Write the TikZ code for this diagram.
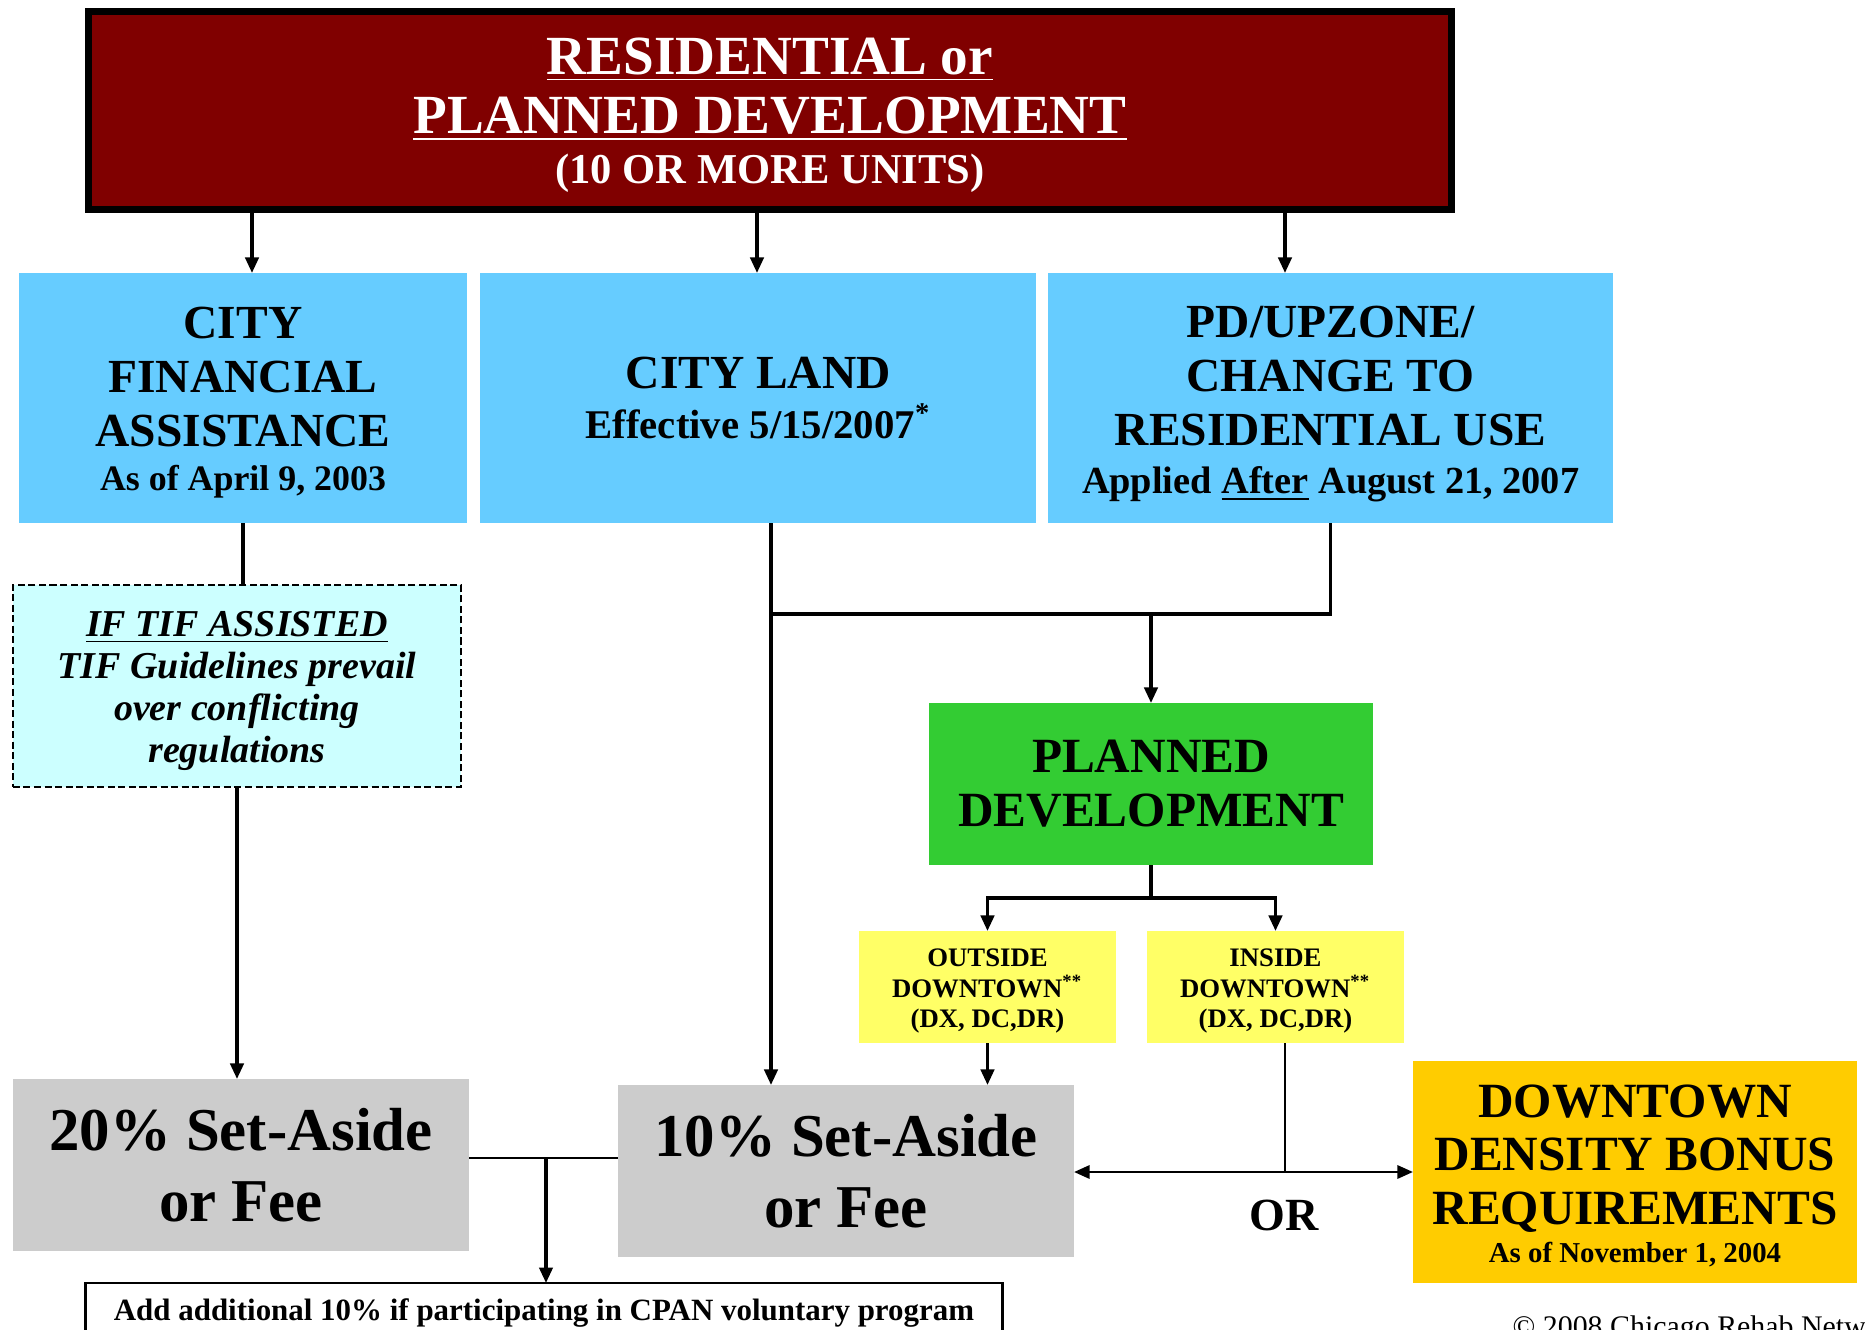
\documentclass[tikz,border=0pt]{standalone}
\usepackage{fontspec}
\setmainfont{Liberation Serif}
\usetikzlibrary{positioning, arrows.meta}
\definecolor{maroon}{HTML}{800000}
\definecolor{skyblue}{HTML}{66CCFF}
\definecolor{paleaqua}{HTML}{CCFFFF}
\definecolor{leafgreen}{HTML}{33CC33}
\definecolor{lemon}{HTML}{FFFF66}
\definecolor{lightgrey}{HTML}{CCCCCC}
\definecolor{amber}{HTML}{FFCC00}
\tikzset{
>={Stealth[length=4.4pt, width=3.8pt, inset=0pt]}, % makes the arrow heads solid triangles
box/.style={rectangle, inner sep=0pt, outer sep=0pt, align=center, font=\bfseries}, % every coloured box
headbox/.style={box, fill=maroon, draw=black, line width=2pt, text=white, minimum width=13.62cm, minimum height=1.98cm, font=\bfseries\fontsize{15.7}{16.8}\selectfont}, % the title box
bluebox/.style={box, fill=skyblue, minimum width=4.48cm, minimum height=2.5cm, font=\bfseries\fontsize{13.5}{15.3}\selectfont}, % the three cases
tifbox/.style={box, fill=paleaqua, draw=black, line width=0.6pt, dash pattern=on 2pt off 1pt, minimum width=4.48cm, minimum height=2.02cm, font=\bfseries\itshape\fontsize{10.8}{12}\selectfont},
setbox/.style={box, fill=lightgrey, minimum width=4.56cm, minimum height=1.72cm, font=\bfseries\fontsize{17.3}{20.2}\selectfont}, % set-aside results
zonebox/.style={box, fill=lemon, minimum width=2.57cm, minimum height=1.12cm, font=\bfseries\fontsize{7.6}{8.7}\selectfont}, % downtown or not
link/.style={line width=0.9pt}, % the heavy connectors
midlink/.style={line width=0.6pt},
thinlink/.style={line width=0.45pt},
}

\begin{document}
\begin{tikzpicture}[x=0.01cm, y=-0.01cm]
\useasboundingbox (0,0) rectangle (1865,1330);

\node[headbox] (top) at (770,110.5) {\rule{0pt}{13.1pt}\underline{RESIDENTIAL or}\\\underline{PLANNED DEVELOPMENT}\\[-2.4pt]\fontsize{12.1}{14}\selectfont (10 OR MORE UNITS)};

\node[bluebox] (cityfin) at (243,398) {\rule{0pt}{11.6pt}CITY\\FINANCIAL\\ASSISTANCE\\[-2.6pt]\fontsize{10.2}{12}\selectfont As of April 9, 2003};
\node[bluebox, minimum width=5.56cm, right=0.13cm of cityfin] (cityland) {CITY LAND\\[-1.3pt]\fontsize{11.6}{13}\selectfont Effective 5/15/2007\textsuperscript{*}};
\node[bluebox, minimum width=5.64cm, right=0.12cm of cityland] (pd) {\rule{0pt}{12.5pt}PD/UPZONE/\\CHANGE TO\\RESIDENTIAL USE\\[-1.5pt]\fontsize{10.9}{12}\selectfont Applied \underline{After} August 21, 2007};

\draw[link, ->] (top.south -| 252,0) -- (252,0 |- cityfin.north);
\draw[link, ->] (top.south -| 757,0) -- (757,0 |- cityland.north);
\draw[link, ->] (top.south -| 1285,0) -- (1285,0 |- pd.north);

\node[tifbox] (tif) at (237,686) {\rule{0pt}{9.9pt}\underline{IF TIF ASSISTED}\\TIF Guidelines prevail\\over conflicting\\regulations};

\node[setbox] (set20) at (241,1165) {20\% Set-Aside\\or Fee};
\node[setbox] (set10) at (846,1171) {10\% Set-Aside\\or Fee};
\node[box, draw=black, line width=0.8pt, minimum width=9.16cm, minimum height=0.6cm, font=\bfseries\fontsize{8.8}{10}\selectfont] (cpan) at (544,1313) {Add additional 10\% if participating in CPAN voluntary program};

\node[box, fill=leafgreen, minimum width=4.44cm, minimum height=1.62cm, font=\bfseries\fontsize{14}{15.4}\selectfont] (plandev) at (1151,784) {PLANNED\\DEVELOPMENT};
\node[zonebox] (outside) at (987.5,987) {\rule{0pt}{7.4pt}OUTSIDE\\DOWNTOWN\textsuperscript{**}\\(DX, DC,DR)};
\node[zonebox] (inside) at (1275.5,987) {\rule{0pt}{7.4pt}INSIDE\\DOWNTOWN\textsuperscript{**}\\(DX, DC,DR)};
\node[box, fill=amber, minimum width=4.44cm, minimum height=2.22cm, font=\bfseries\fontsize{14}{15.3}\selectfont] (downtown) at (1635,1172) {\rule{0pt}{11.5pt}DOWNTOWN\\DENSITY BONUS\\REQUIREMENTS\\[-4.4pt]\fontsize{8.2}{10}\selectfont As of November 1, 2004};

\draw[link] (cityfin.south) -- (cityfin.south |- tif.north);
\draw[link, ->] (tif.south) -- (tif.south |- set20.north);

\coordinate (fork) at (546,1158);
\draw[midlink] (set20.east |- fork) -- (set10.west |- fork);
\draw[link, ->] (fork) -- (fork |- cpan.north);

\coordinate (landjoin) at (771,614);
\coordinate (landend) at (1193,614);
\coordinate (pdjoin) at (1151,614);
\draw[link, ->] (landjoin |- cityland.south) -- (landjoin |- set10.north);
\draw[link] (landjoin) -- (landend);
\draw[link, ->] (pd.south) |- (pdjoin) -- (plandev.north);

\coordinate (split) at (1151,898);
\draw[link] (plandev.south) -- (split);
\draw[link, ->] (split) -| (outside.north);
\draw[link, ->] (split) -| (inside.north);
\draw[link, ->] (outside.south) -- (outside.south |- set10.north);

\coordinate (orjoin) at (1285,1172);
\draw[thinlink] (inside.south -| orjoin) -- (orjoin);
\draw[midlink, ->] (orjoin) -- (orjoin -| set10.east);
\draw[midlink, ->] (orjoin) -- (orjoin -| downtown.west);
\node[inner sep=0pt, font=\bfseries\fontsize{13.1}{15}\selectfont] (or) at (1284,1215) {OR};

\node[anchor=north west, inner sep=0pt, font=\fontsize{8.5}{10}\selectfont] (copy) at (1512,1315) {\textcopyright{} 2008 Chicago Rehab Network};
\end{tikzpicture}
\end{document}
